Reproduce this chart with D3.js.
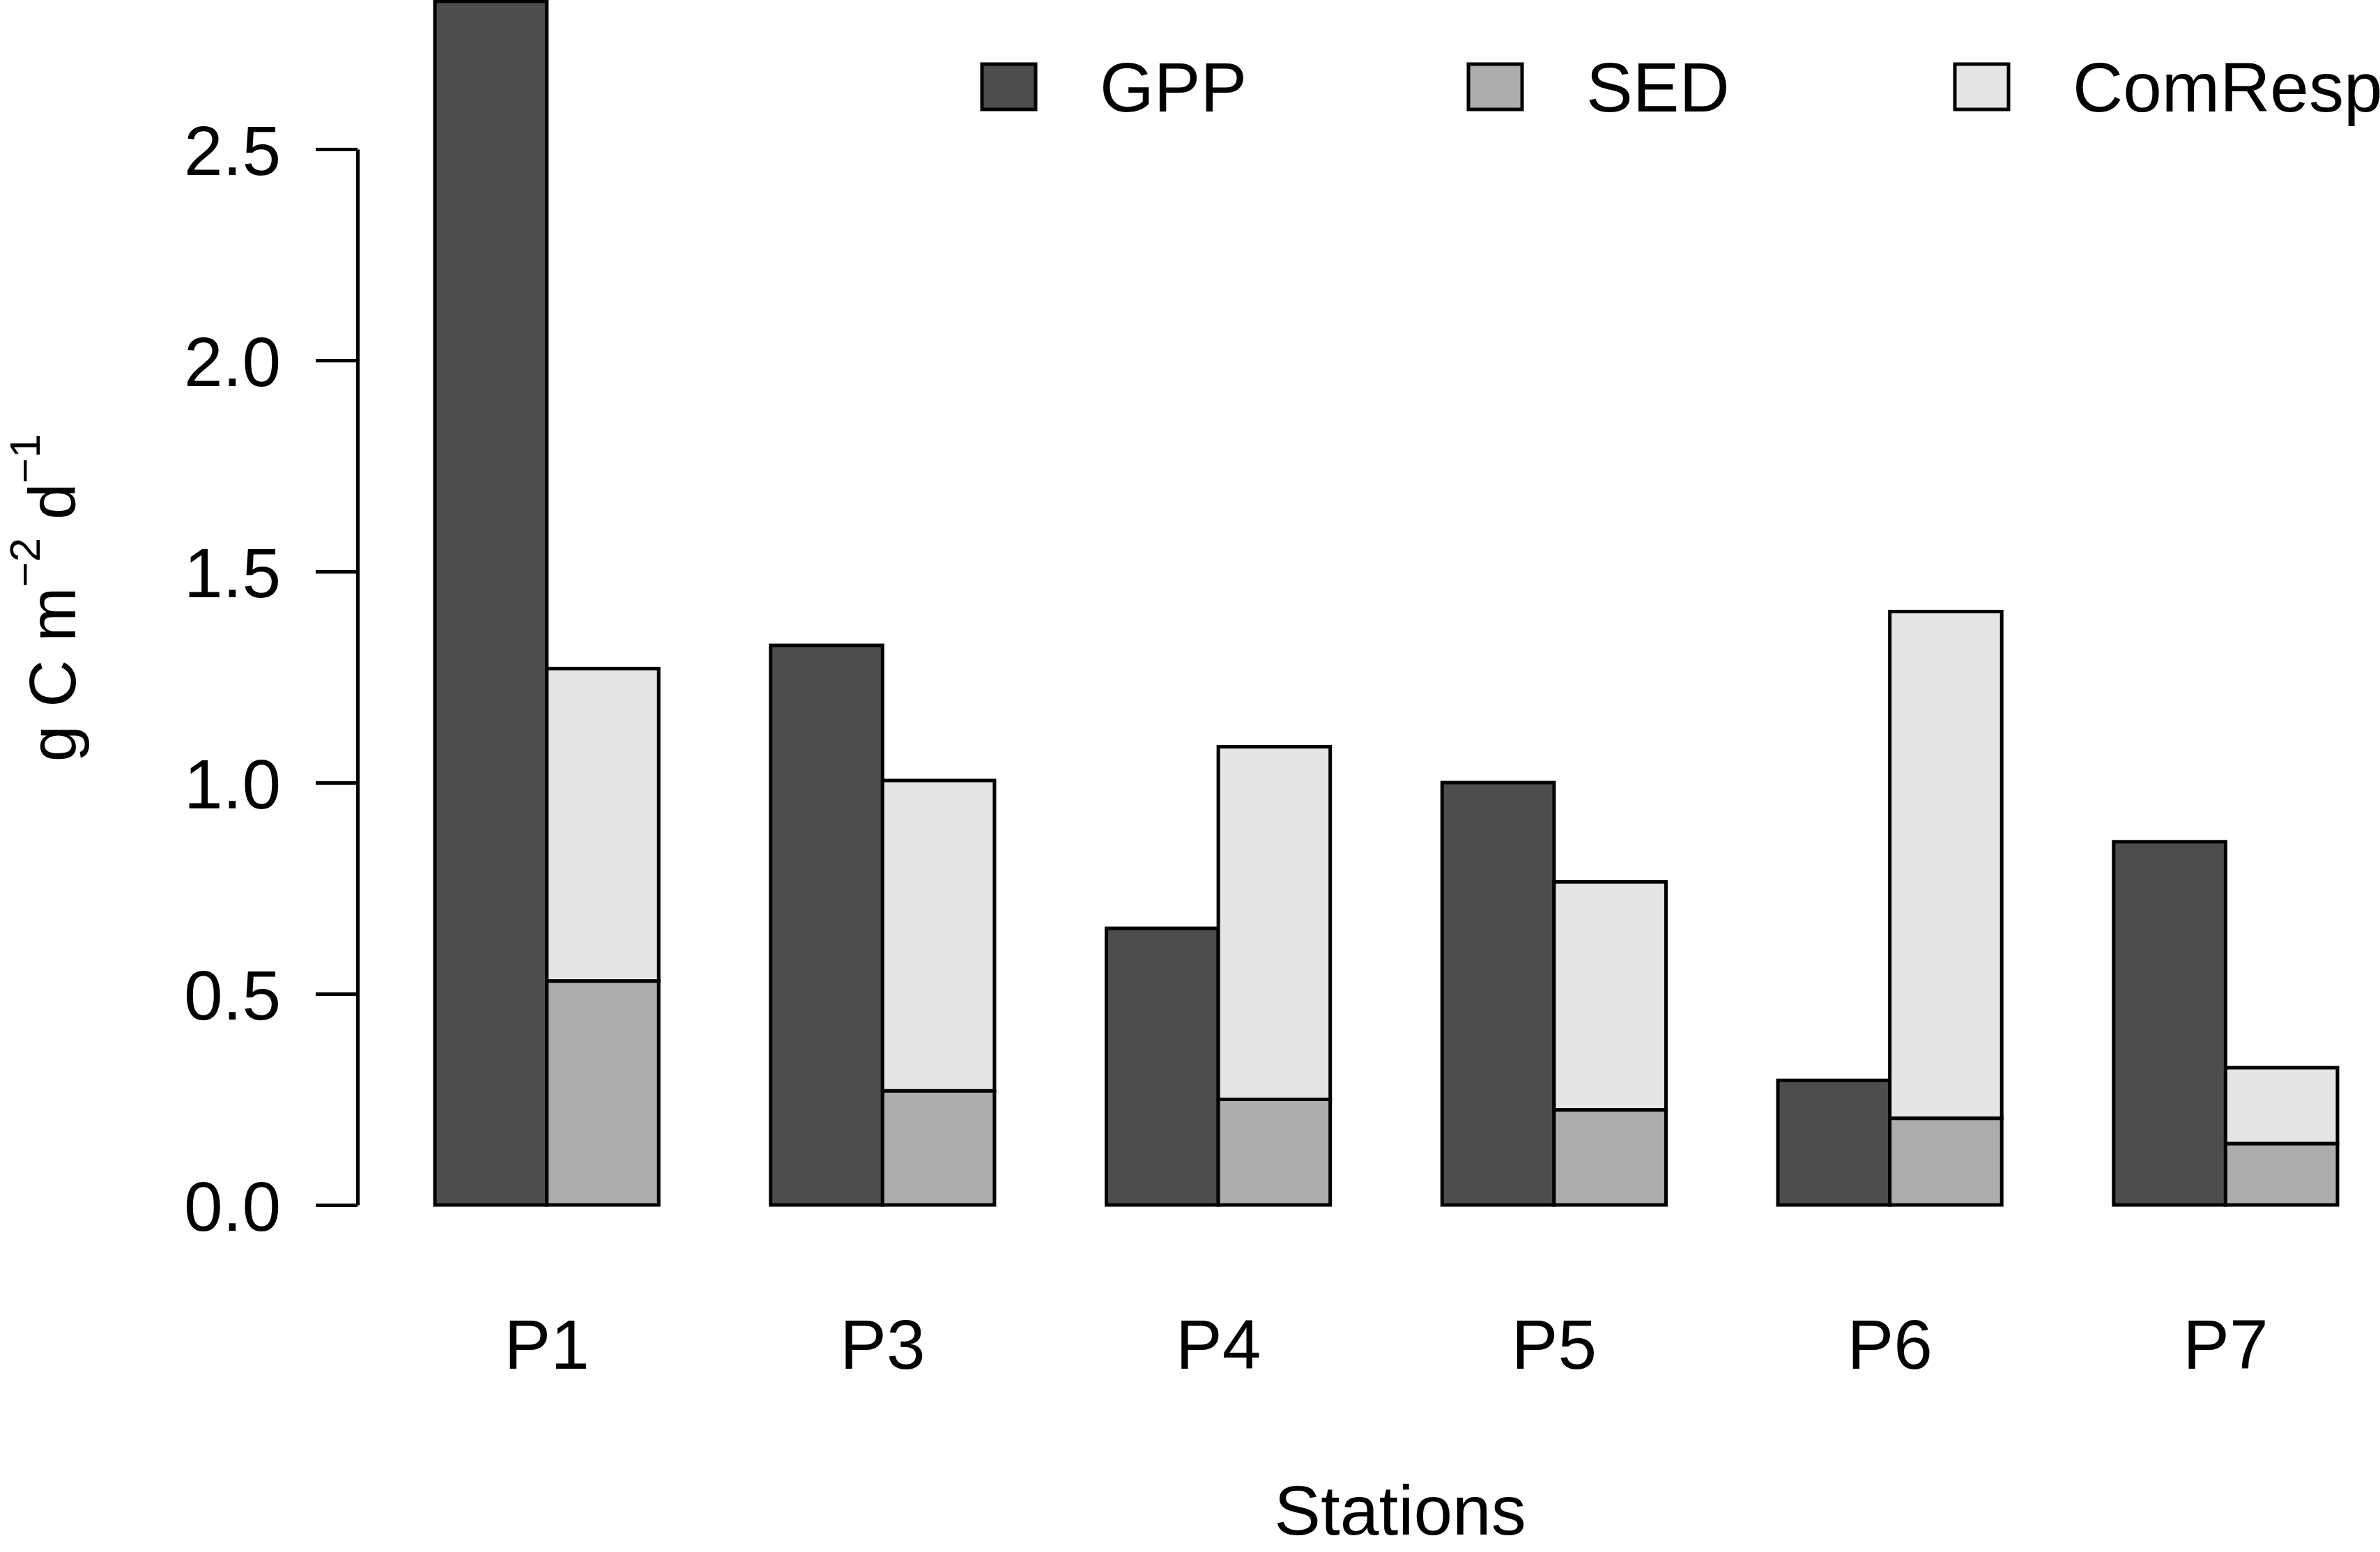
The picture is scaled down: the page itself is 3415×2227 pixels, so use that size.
<!DOCTYPE html>
<html>
<head>
<meta charset="utf-8">
<script src="https://cdn.jsdelivr.net/npm/d3@7"></script>
<style>
  body { margin: 0; background: #fff; }
  text { font-family: "Liberation Sans", Arial, sans-serif; fill: #000; }
</style>
</head>
<body>
<svg id="chart" width="3415" height="2227"></svg>
<script>
// data
const stations = ['P1', 'P3', 'P4', 'P5', 'P6', 'P7'];
const gpp = [2.85, 1.325, 0.655, 1.0, 0.295, 0.86];
const sed = [0.53, 0.27, 0.25, 0.225, 0.205, 0.145];
const comResp = [1.27, 1.005, 1.085, 0.765, 1.405, 0.325]; // total height of the stacked bar
const yTicks = [0, 0.5, 1.0, 1.5, 2.0, 2.5];
const seriesNames = ['GPP', 'SED', 'ComResp'];
const seriesColors = ['#4d4d4d', '#adadad', '#e5e5e5'];

const svg = d3.select('#chart');
const fontSize = 100;
const lw = 5;

const y = d3.scaleLinear().domain([0, 2.5]).range([1729, 214]);

const xGroup = d3.scaleBand()
  .domain(stations)
  .range([624, 3354])
  .paddingInner(1 / 3)
  .paddingOuter(0);

const xInner = d3.scaleBand()
  .domain(['gpp', 'stack'])
  .range([0, xGroup.bandwidth()]);

const rows = stations.map((s, i) => ({ s, gpp: gpp[i], sed: sed[i], comResp: comResp[i] }));

const groups = svg.append('g')
  .selectAll('g')
  .data(rows)
  .enter().append('g')
  .attr('transform', d => `translate(${xGroup(d.s)},0)`);

// GPP bar
groups.append('rect')
  .attr('x', xInner('gpp'))
  .attr('y', d => y(d.gpp))
  .attr('width', xInner.bandwidth())
  .attr('height', d => y(0) - y(d.gpp))
  .attr('fill', seriesColors[0]);

// ComResp part on top of SED
groups.append('rect')
  .attr('x', xInner('stack'))
  .attr('y', d => y(d.comResp))
  .attr('width', xInner.bandwidth())
  .attr('height', d => y(d.sed) - y(d.comResp))
  .attr('fill', seriesColors[2]);

// SED bar
groups.append('rect')
  .attr('x', xInner('stack'))
  .attr('y', d => y(d.sed))
  .attr('width', xInner.bandwidth())
  .attr('height', d => y(0) - y(d.sed))
  .attr('fill', seriesColors[1]);

groups.selectAll('rect')
  .attr('stroke', '#000')
  .attr('stroke-width', lw);

// y axis
const yAxis = d3.axisLeft(y)
  .tickValues(yTicks)
  .tickFormat(d3.format('.1f'))
  .tickSize(60)
  .tickSizeOuter(0)
  .tickPadding(50);

const gy = svg.append('g')
  .attr('transform', 'translate(513,0)')
  .call(yAxis);
gy.selectAll('path, line').attr('stroke', '#000').attr('stroke-width', lw);
gy.selectAll('text')
  .attr('font-size', fontSize)
  .attr('font-family', '"Liberation Sans", Arial, sans-serif')
  .attr('dy', '0.36em');

// x labels (station names)
const xAxis = d3.axisBottom(xGroup).tickSize(0).tickPadding(164);
const gx = svg.append('g')
  .attr('transform', 'translate(0,1729)')
  .call(xAxis);
gx.select('.domain').remove();
gx.selectAll('text')
  .attr('font-size', fontSize)
  .attr('font-family', '"Liberation Sans", Arial, sans-serif');

// axis titles
svg.append('text')
  .attr('x', 2009)
  .attr('y', 2202)
  .attr('text-anchor', 'middle')
  .attr('font-size', fontSize)
  .text('Stations');

const ylab = svg.append('text')
  .attr('transform', 'translate(108,858) rotate(-90)')
  .attr('text-anchor', 'middle')
  .attr('font-size', 94);
ylab.append('tspan').text('g C m');
ylab.append('tspan').attr('font-size', 62).attr('dy', -51).text('\u22122');
ylab.append('tspan').attr('dy', 51).text(' d');
ylab.append('tspan').attr('font-size', 62).attr('dy', -51).text('\u22121');

// legend
const legend = svg.append('g')
  .selectAll('g')
  .data(seriesNames)
  .enter().append('g')
  .attr('transform', (d, i) => `translate(${1409 + i * 698},0)`);

legend.append('rect')
  .attr('x', 0)
  .attr('y', 92)
  .attr('width', 77)
  .attr('height', 65)
  .attr('fill', (d, i) => seriesColors[i])
  .attr('stroke', '#000')
  .attr('stroke-width', lw);

legend.append('text')
  .attr('x', 169)
  .attr('y', 160)
  .attr('font-size', fontSize)
  .text(d => d);
</script>
</body>
</html>
